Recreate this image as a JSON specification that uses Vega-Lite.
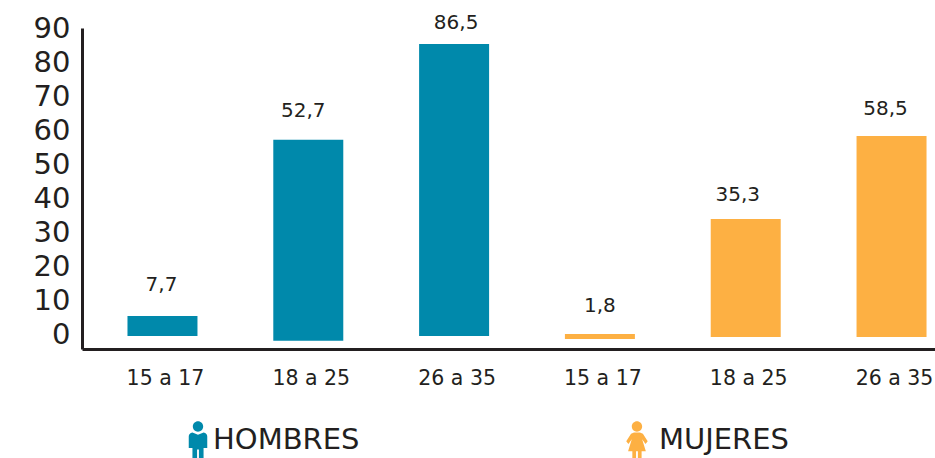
{"$schema":"https://vega.github.io/schema/vega-lite/v6.json","autosize":{"type":"none"},"padding":{"left":82,"top":28,"right":0,"bottom":109},"width":853,"height":321,"background":"white","config":{"view":{"stroke":null},"text":{"font":"DejaVu Sans"},"axis":{"labelFont":"DejaVu Sans","labelColor":"#231f20","domainColor":"#231f20","domainWidth":3,"grid":false,"ticks":false,"title":null}},"data":{"values":[{"grupo":"H 15 a 17","sexo":"HOMBRES","etiqueta":"7,7","tope":5.3,"base":-0.6},{"grupo":"H 18 a 25","sexo":"HOMBRES","etiqueta":"52,7","tope":57.1,"base":-2},{"grupo":"H 26 a 35","sexo":"HOMBRES","etiqueta":"86,5","tope":85.3,"base":-0.6},{"grupo":"M 15 a 17","sexo":"MUJERES","etiqueta":"1,8","tope":0,"base":-1.5},{"grupo":"M 18 a 25","sexo":"MUJERES","etiqueta":"35,3","tope":33.8,"base":-0.9},{"grupo":"M 26 a 35","sexo":"MUJERES","etiqueta":"58,5","tope":58.2,"base":-0.9}]},"encoding":{"x":{"field":"grupo","type":"nominal","sort":null,"scale":{"paddingInner":0.52,"paddingOuter":0.185,"align":0.843},"axis":{"labelAngle":0,"labelFontSize":20.5,"labelPadding":19,"labelOffset":3,"labelExpr":"slice(datum.label,2)"}},"y":{"field":"tope","type":"quantitative","scale":{"domain":[-4.41,90],"nice":false,"zero":false},"axis":{"values":[0,10,20,30,40,50,60,70,80,90],"labelFontSize":29,"labelPadding":12,"format":"d"}}},"layer":[{"mark":{"type":"bar"},"encoding":{"y2":{"field":"base"},"color":{"field":"sexo","type":"nominal","scale":{"domain":["HOMBRES","MUJERES"],"range":["#0089ab","#fdb043"]},"legend":{"orient":"none","legendX":97,"legendY":393,"direction":"horizontal","columns":2,"title":null,"symbolSize":1370,"symbolStrokeWidth":0,"labelFont":"DejaVu Sans","labelFontSize":29,"labelColor":"#231f20","labelOffset":-4,"columnPadding":265,"padding":0}}}},{"mark":{"type":"point","filled":true,"opacity":1},"encoding":{"size":{"value":0},"color":{"field":"sexo","type":"nominal"},"shape":{"field":"sexo","type":"nominal","scale":{"domain":["HOMBRES","MUJERES"],"range":["M-0.28,-0.74a0.28,0.28 0 1,0 0.56,0a0.28,0.28 0 1,0 -0.56,0Z M-0.5,0.42 L-0.5,-0.2 Q-0.5,-0.38 -0.3,-0.42 L0,-0.3 L0.3,-0.42 Q0.5,-0.38 0.5,-0.2 L0.5,0.42 L0.3,0.42 L0.3,1 L0.05,1 L0.05,0.5 L-0.05,0.5 L-0.05,1 L-0.3,1 L-0.3,0.42Z","M-0.66,-0.74a0.28,0.28 0 1,0 0.56,0a0.28,0.28 0 1,0 -0.56,0Z M-0.54,-0.42 L-0.22,-0.42 L-0.06,-0.35 L0.2,0.05 L0.08,0.2 L-0.1,-0.05 L0.1,0.6 L-0.13,0.6 L-0.13,1 L-0.33,1 L-0.33,0.6 L-0.43,0.6 L-0.43,1 L-0.63,1 L-0.63,0.6 L-0.86,0.6 L-0.66,-0.05 L-0.84,0.2 L-0.96,0.05 L-0.7,-0.35Z"]}}}},{"transform":[{"filter":"datum.etiqueta==='7,7'"}],"mark":{"type":"text","fontSize":20,"color":"#231f20","dy":-31,"dx":-1,"baseline":"middle"},"encoding":{"text":{"field":"etiqueta"}}},{"transform":[{"filter":"datum.etiqueta==='52,7'"}],"mark":{"type":"text","fontSize":20,"color":"#231f20","dy":-29,"dx":-5,"baseline":"middle"},"encoding":{"text":{"field":"etiqueta"}}},{"transform":[{"filter":"datum.etiqueta==='86,5'"}],"mark":{"type":"text","fontSize":20,"color":"#231f20","dy":-21,"dx":2,"baseline":"middle"},"encoding":{"text":{"field":"etiqueta"}}},{"transform":[{"filter":"datum.etiqueta==='1,8'"}],"mark":{"type":"text","fontSize":20,"color":"#231f20","dy":-28,"baseline":"middle"},"encoding":{"text":{"field":"etiqueta"}}},{"transform":[{"filter":"datum.etiqueta==='35,3'"}],"mark":{"type":"text","fontSize":20,"color":"#231f20","dy":-24,"dx":-8,"baseline":"middle"},"encoding":{"text":{"field":"etiqueta"}}},{"transform":[{"filter":"datum.etiqueta==='58,5'"}],"mark":{"type":"text","fontSize":20,"color":"#231f20","dy":-27,"dx":-6,"baseline":"middle"},"encoding":{"text":{"field":"etiqueta"}}}]}
